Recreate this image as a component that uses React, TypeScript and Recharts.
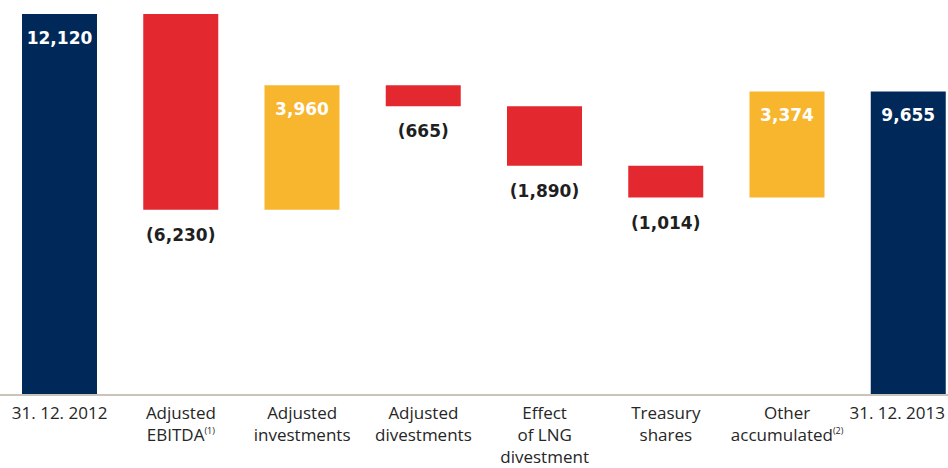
import React from 'react';
import { BarChart, Bar, XAxis, YAxis, Cell, LabelList } from 'recharts';

const categories = [
  '31. 12. 2012',
  'Adjusted EBITDA',
  'Adjusted investments',
  'Adjusted divestments',
  'Effect of LNG divestment',
  'Treasury shares',
  'Other accumulated',
  '31. 12. 2013',
];

const tickLines = [
  ['31. 12. 2012'],
  ['Adjusted', 'EBITDA'],
  ['Adjusted', 'investments'],
  ['Adjusted', 'divestments'],
  ['Effect', 'of LNG', 'divestment'],
  ['Treasury', 'shares'],
  ['Other', 'accumulated'],
  ['31. 12. 2013'],
];

const footnotes = ['', '(1)', '', '', '', '', '(2)', ''];

// totals are absolute levels, steps are changes
const amounts = [12120, -6230, 3960, -665, -1890, -1014, 3374, 9655];
const kinds = ['total', 'step', 'step', 'step', 'step', 'step', 'step', 'total'];

const NAVY = '#00295a';
const RED = '#e32830';
const ORANGE = '#f8b52e';

let running = 0;
const data = categories.map((name, i) => {
  const amount = amounts[i];
  if (kinds[i] === 'total') {
    running = amount;
    return { name, base: 0, value: amount };
  }
  const start = running;
  running += amount;
  return { name, base: Math.min(start, running), value: Math.abs(amount) };
});

const barColor = (i: number) => {
  if (kinds[i] === 'total') return NAVY;
  return amounts[i] < 0 ? RED : ORANGE;
};

const fmt = (n: number) => Math.abs(n).toLocaleString('en-US');

const CategoryTick = (props: any) => {
  const { x, y, payload } = props;
  const i = payload.index;
  const lines = tickLines[i] || [];
  // last label sits at the right edge of the page, keep it inside
  const isLast = i === categories.length - 1;
  const tx = isLast ? 946 : x;
  return (
    <text
      x={tx}
      y={y}
      textAnchor={isLast ? 'end' : 'middle'}
      fill="#262626"
      fontSize={17}
      fontFamily="'Open Sans', sans-serif"
    >
      {lines.map((line, k) => (
        <tspan key={k} x={tx} dy={22}>
          {line}
          {k === lines.length - 1 && footnotes[i] ? (
            <tspan fontSize={9} dy={-7}>
              {footnotes[i]}
            </tspan>
          ) : null}
        </tspan>
      ))}
    </text>
  );
};

const ValueLabel = (props: any) => {
  const { x, y, width, height, index } = props;
  const amount = amounts[index];
  const cx = x + width / 2;
  const negative = amount < 0;
  return (
    <text
      x={cx}
      y={negative ? y + height + 25 : y + 24}
      textAnchor="middle"
      dominantBaseline="central"
      fill={negative ? '#1f1f1f' : '#ffffff'}
      fontSize={17}
      fontWeight="bold"
      fontFamily="'DejaVu Sans', sans-serif"
    >
      {negative ? `(${fmt(amount)})` : fmt(amount)}
    </text>
  );
};

const App: React.FC = () => {
  return (
    <div
      style={{
        position: 'absolute',
        left: 0,
        top: 0,
        width: 948,
        height: 468,
        overflow: 'hidden',
        background: '#ffffff',
      }}
    >
      <BarChart
        width={970}
        height={468}
        data={data}
        margin={{ top: 14, right: 0, left: 0, bottom: 0 }}
        style={{ marginLeft: -1 }}
      >
        <XAxis
          dataKey="name"
          interval={0}
          tickLine={false}
          tickSize={0}
          height={73}
          axisLine={{ stroke: '#cbc4bb', strokeWidth: 2 }}
          tick={<CategoryTick />}
        />
        <YAxis hide domain={[0, 12120]} />
        <Bar dataKey="base" stackId="w" fill="transparent" barSize={75} isAnimationActive={false} />
        <Bar dataKey="value" stackId="w" barSize={75} isAnimationActive={false}>
          {data.map((_, i) => (
            <Cell key={i} fill={barColor(i)} />
          ))}
          <LabelList dataKey="value" content={<ValueLabel />} />
        </Bar>
      </BarChart>
    </div>
  );
};

export default App;
